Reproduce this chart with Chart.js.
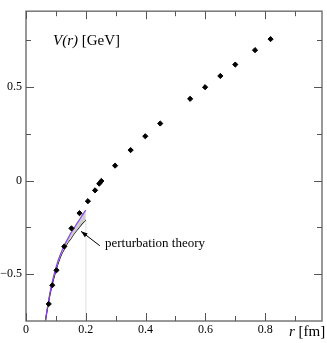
<!DOCTYPE html>
<html>
<head>
<meta charset="utf-8">
<script src="https://cdn.jsdelivr.net/npm/chart.js@4/dist/chart.umd.min.js"></script>
<style>
  html, body { margin: 0; padding: 0; background: #fff; }
  #wrap { width: 327px; height: 343px; }
</style>
</head>
<body>
<div id="wrap"><canvas id="potential" width="327" height="343"></canvas></div>
<script>
// Lattice potential data points, r in fm, V in GeV
const rValues = [0.076, 0.088, 0.102, 0.128, 0.152, 0.179, 0.207, 0.231, 0.245, 0.252,
                 0.298, 0.350, 0.399, 0.449, 0.549, 0.599, 0.650, 0.700, 0.766, 0.818];
const vValues = [-0.659, -0.559, -0.479, -0.352, -0.255, -0.174, -0.110, -0.052, -0.016, -0.002,
                 0.080, 0.163, 0.237, 0.305, 0.437, 0.499, 0.559, 0.620, 0.697, 0.756];

// Perturbation theory band (upper = purple edge, lower = black edge)
const rCurve = [0.065, 0.07, 0.08, 0.09, 0.10, 0.11, 0.12, 0.13, 0.14, 0.15, 0.16, 0.17, 0.18, 0.19, 0.20];
const vUpper = [-0.75, -0.695, -0.60, -0.525, -0.465, -0.415, -0.375, -0.34, -0.31, -0.28, -0.255, -0.23, -0.205, -0.18, -0.157];
const vLower = [-0.75, -0.70, -0.61, -0.54, -0.48, -0.43, -0.39, -0.36, -0.33, -0.31, -0.285, -0.265, -0.245, -0.225, -0.21];

// Axes
const xRange = [0, 0.99];
const yRange = [-0.75, 0.905];
const xTickValues = [0, 0.2, 0.4, 0.6, 0.8];
const xMinorValues = [0.1, 0.3, 0.5, 0.7, 0.9];
const yTickValues = [-0.5, 0, 0.5];
const yMinorValues = [-0.25, 0.25, 0.75];

const serif = '"Liberation Serif", "DejaVu Serif", serif';
const frameColor = '#777';

function fmt(v) {
  if (v === 0) return '0';
  return (v < 0 ? '\u2212' : '') + Math.abs(v).toString();
}

const pts = rValues.map((r, i) => ({ x: r, y: vValues[i] }));
const upper = rCurve.map((r, i) => ({ x: r, y: vUpper[i] }));
const lower = rCurve.map((r, i) => ({ x: r, y: vLower[i] }));
const lastR = rCurve[rCurve.length - 1];
const edge = [{ x: lastR, y: vLower[vLower.length - 1] }, { x: lastR, y: yRange[0] }];

// Frame, inward ticks on all sides, and text annotations
const framePlugin = {
  id: 'frame',
  afterDraw(chart) {
    const { ctx, chartArea: a, scales: { x, y } } = chart;
    ctx.save();
    ctx.strokeStyle = frameColor;
    ctx.lineWidth = 1.5;
    ctx.strokeRect(a.left, a.top, a.right - a.left, a.bottom - a.top);

    ctx.lineWidth = 1;
    ctx.strokeStyle = '#555';
    const tick = (vals, len, horiz) => {
      vals.forEach(v => {
        ctx.beginPath();
        if (horiz) {
          const px = Math.round(x.getPixelForValue(v)) + 0.5;
          ctx.moveTo(px, a.bottom); ctx.lineTo(px, a.bottom - len);
          ctx.moveTo(px, a.top); ctx.lineTo(px, a.top + len);
        } else {
          const py = Math.round(y.getPixelForValue(v)) + 0.5;
          ctx.moveTo(a.left, py); ctx.lineTo(a.left + len, py);
          ctx.moveTo(a.right, py); ctx.lineTo(a.right - len, py);
        }
        ctx.stroke();
      });
    };
    tick(xTickValues, 8, true);
    tick(xMinorValues, 5, true);
    tick(yTickValues, 8, false);
    tick(yMinorValues, 5, false);

    // y label
    ctx.fillStyle = '#000';
    ctx.textBaseline = 'alphabetic';
    ctx.font = 'italic 15px ' + serif;
    let tx = 53;
    ctx.fillText('V(r)', tx, 45);
    tx += ctx.measureText('V(r)').width;
    ctx.font = '15px ' + serif;
    ctx.fillText(' [GeV]', tx, 45);

    // x label
    ctx.font = 'italic 15px ' + serif;
    tx = 289;
    ctx.fillText('r', tx, 336);
    tx += ctx.measureText('r').width;
    ctx.font = '15px ' + serif;
    ctx.fillText(' [fm]', tx, 336);

    // perturbation theory arrow
    const x0 = x.getPixelForValue(0.247), y0 = y.getPixelForValue(-0.348);
    const x1 = x.getPixelForValue(0.184), y1 = y.getPixelForValue(-0.271);
    ctx.strokeStyle = '#000';
    ctx.lineWidth = 1;
    ctx.beginPath();
    ctx.moveTo(x0, y0); ctx.lineTo(x1, y1);
    ctx.stroke();
    const ang = Math.atan2(y1 - y0, x1 - x0);
    ctx.beginPath();
    ctx.moveTo(x1, y1);
    ctx.lineTo(x1 - 7 * Math.cos(ang - 0.35), y1 - 7 * Math.sin(ang - 0.35));
    ctx.lineTo(x1 - 7 * Math.cos(ang + 0.35), y1 - 7 * Math.sin(ang + 0.35));
    ctx.closePath();
    ctx.fill();
    ctx.font = '13px ' + serif;
    ctx.fillText('perturbation theory', 105, 247);
    ctx.restore();
  }
};

new Chart(document.getElementById('potential'), {
  type: 'scatter',
  data: {
    datasets: [
      {
        label: 'lattice',
        data: pts,
        pointStyle: 'rectRot',
        pointRadius: 2.6,
        backgroundColor: '#000',
        borderColor: '#000',
        borderWidth: 1
      },
      {
        label: 'upper',
        data: upper,
        showLine: true,
        pointRadius: 0,
        borderColor: '#8a46dc',
        borderWidth: 1.2,
        backgroundColor: '#cfcfcf',
        fill: '+1',
        tension: 0.3
      },
      {
        label: 'lower',
        data: lower,
        showLine: true,
        pointRadius: 0,
        borderColor: '#000',
        borderWidth: 1.2,
        fill: false,
        tension: 0.3
      },
      {
        label: 'edge',
        data: edge,
        showLine: true,
        pointRadius: 0,
        borderColor: '#ececec',
        borderWidth: 1,
        fill: false
      }
    ]
  },
  options: {
    responsive: false,
    animation: false,
    devicePixelRatio: 1,
    layout: { padding: { top: 1, right: 1, left: 0, bottom: 0 } },
    plugins: { legend: { display: false }, tooltip: { enabled: false } },
    scales: {
      x: {
        type: 'linear',
        min: xRange[0],
        max: xRange[1],
        grid: { display: false, drawTicks: false, tickLength: 0 },
        border: { display: false },
        afterBuildTicks: s => { s.ticks = xTickValues.map(v => ({ value: v })); },
        afterFit: s => { s.height = 22; },
        ticks: {
          color: '#000',
          padding: 2,
          maxRotation: 0,
          font: { family: serif, size: 12 },
          callback: v => fmt(v)
        }
      },
      y: {
        type: 'linear',
        min: yRange[0],
        max: yRange[1],
        grid: { display: false, drawTicks: false, tickLength: 0 },
        border: { display: false },
        afterBuildTicks: s => { s.ticks = yTickValues.map(v => ({ value: v })); },
        afterFit: s => { s.width = 26; },
        ticks: {
          color: '#000',
          padding: 4,
          font: { family: serif, size: 12 },
          callback: v => fmt(v)
        }
      }
    }
  },
  plugins: [framePlugin]
});
</script>
</body>
</html>
